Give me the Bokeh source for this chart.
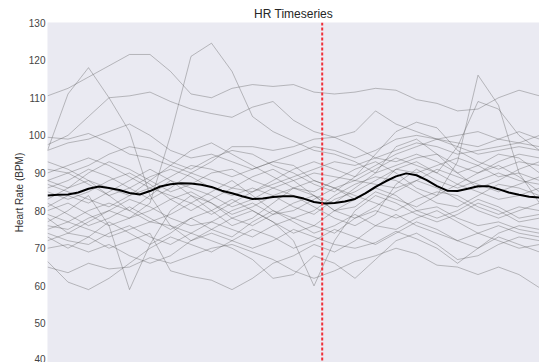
from bokeh.plotting import figure
from bokeh.models import Range1d, Span, FixedTicker
from bokeh.embed import file_html
from bokeh.resources import INLINE

# Sample times (s), one reading every 10 s
time_s = [0, 10, 20, 30, 40, 50, 60, 70, 80, 90, 100, 110, 120,
          130, 140, 150, 160, 170, 180, 190, 200, 210, 220, 230, 240]

# Finer time base (every 5 s) for the group mean
time_mean_s = [0, 5, 10, 15, 20, 25, 30, 35, 40, 45, 50, 55, 60, 65, 70, 75, 80,
               85, 90, 95, 100, 105, 110, 115, 120, 125, 130, 135, 140, 145, 150,
               155, 160, 165, 170, 175, 180, 185, 190, 195, 200, 205, 210, 215,
               220, 225, 230, 235, 240]

# Time of the marked event (s)
event_time = 134

# Per-subject heart rate traces (BPM)
hr_s01 = [110.5, 112.5, 115.5, 118.5, 121.5, 121.5, 117, 111, 110, 112.5, 113.5, 113, 113.5, 111.5, 111, 111.5, 112.5, 112, 109.5, 108.5, 106.5, 107, 110, 112, 110.5]
hr_s02 = [96, 111, 118, 110, 101, 84, 76, 72, 75, 78, 80, 77, 74, 76, 80, 83, 86, 84, 80, 78, 80, 83, 81, 78, 79]
hr_s03 = [78, 74, 77, 80, 78, 82, 100, 121, 124.5, 117, 105, 101, 98.5, 96, 95, 93, 90, 92, 94, 95, 92, 90, 93, 95, 94]
hr_s04 = [97.5, 100, 105, 110, 110.5, 111.5, 109, 107, 105.8, 104.8, 107.5, 109, 104, 101, 99.5, 101, 106.5, 103, 101, 99, 97, 95, 96, 97, 96]
hr_s05 = [80, 82, 79, 76, 78, 80, 83, 85, 82, 79, 81, 84, 86, 85, 88, 91, 93, 90, 86, 84, 93, 116, 108, 90, 82]
hr_s06 = [88, 86, 90, 93, 91, 88, 85, 87, 90, 91, 88, 86, 88, 90, 89, 88, 91, 94, 92, 90, 97, 109, 107, 100, 96]
hr_s07 = [91, 90, 92, 95, 97, 96, 93, 91, 94, 96, 95, 92, 90, 87, 85, 89, 95, 101, 103.5, 102, 96, 93, 91, 93, 92]
hr_s08 = [99.5, 99, 100.5, 98, 95, 94, 92, 90, 88, 86, 85, 87, 89, 91, 93, 92, 94, 96, 98, 97, 95, 96, 97, 98, 97]
hr_s09 = [66.5, 61, 59, 62, 66, 70, 73, 71, 69, 72, 75, 73, 70, 72, 75, 73, 71, 74, 77, 75, 72, 74, 76, 74, 73]
hr_s10 = [65, 63.5, 66, 64.5, 65, 67.5, 66, 68, 70, 71, 69, 67, 64, 62, 64, 66.5, 68, 70, 68.5, 65.5, 65, 63, 65, 63, 59.5]
hr_s11 = [77, 80, 84, 76, 59, 71, 80, 84, 82, 78, 76, 79, 82, 84, 80, 78, 81, 85, 88, 86, 83, 80, 78, 80, 82]
hr_s12 = [72, 74, 73, 70, 72, 74, 64, 62.5, 61.5, 59, 62, 66, 68, 71, 69, 72, 76, 79, 76, 74, 72, 70, 73, 71, 69]
hr_s13 = [75, 77, 75, 73, 75, 77, 76, 74, 72, 70, 67, 62, 63, 68, 66, 62, 67, 72, 74, 71, 67, 68, 71, 73, 72]
hr_s14 = [82, 79, 76, 78, 81, 78, 75, 78, 80, 83, 80, 77, 72, 60, 72, 80, 84, 82, 79, 77, 79, 82, 80, 77, 78]
hr_s15 = [70, 71, 69, 71, 68, 66, 68, 72, 74, 72, 70, 72, 75, 73, 71, 70, 71.5, 74.5, 72.5, 70, 66, 70, 74, 76, 75]
hr_s16 = [86, 88, 91, 89, 86, 83, 86, 90, 93, 97, 97, 96, 97, 99, 99.5, 97, 94, 93, 95, 93, 90, 92, 95, 94, 90]
hr_s17 = [85, 83, 85, 88, 90, 87, 83, 80, 83, 86, 89, 91, 88, 84, 82, 86, 90, 97, 99, 95, 90, 86, 88, 91, 93]
hr_s18 = [83, 86, 88, 84, 80, 77, 79, 82, 85, 88, 84, 80, 78, 80, 84, 87, 89, 88, 85, 82, 81, 84, 87, 86, 84]
hr_s19 = [81, 84, 82, 85, 88, 91, 88, 84, 80, 76, 78, 82, 86, 88, 86, 83, 86, 91, 93, 90, 87, 85, 83, 84, 86]
hr_s20 = [79, 77, 80, 82, 80, 84, 88, 86, 84, 81, 83, 86, 84, 81, 78, 76, 79, 87, 91, 88, 86, 88, 90, 88, 87]
hr_s21 = [76, 75, 78, 80, 83, 81, 78, 76, 77, 80, 82, 79, 80, 83, 86, 84, 82, 80, 83, 85, 84, 81, 79, 81, 80]
hr_s22 = [74, 72, 71, 74, 76, 73, 71, 74, 77, 75, 73, 76, 78, 76, 74, 78, 80, 78, 80, 81, 78, 76, 77, 75, 74]
hr_s23 = [88, 90, 87, 84, 86, 89, 91, 89, 86, 84, 86, 84, 81, 79, 83, 85, 88, 91, 90, 92, 94, 92, 89, 90, 88]
hr_s24 = [90, 92, 94, 92, 89, 86, 84, 82, 79, 82, 85, 88, 91, 93, 91, 89, 92, 95, 97, 99, 98, 97, 99, 101, 99]
hr_s25 = [93, 91, 88, 86, 84, 86, 89, 92, 91, 89, 91, 93, 92, 88, 86, 88, 87, 86, 88, 91, 89, 87, 85, 87, 89]
hr_s26 = [73, 70, 73, 77, 74, 71, 74, 78, 75, 73, 77, 80, 77, 74, 76, 79, 76, 75, 78, 80, 77, 74, 72, 70, 71]
hr_s27 = [96, 98, 99, 101, 103, 100, 96, 94, 95, 93, 91, 93, 95, 97, 96, 94, 96, 99, 100, 99, 100, 101, 99, 98, 100]
hr_s28 = [87, 85, 83, 81, 84, 88, 92, 96, 98, 95, 92, 89, 86, 84, 80, 81, 85, 83, 81, 84, 87, 90, 92, 89, 85]

subjects = [hr_s01, hr_s02, hr_s03, hr_s04, hr_s05, hr_s06, hr_s07, hr_s08,
            hr_s09, hr_s10, hr_s11, hr_s12, hr_s13, hr_s14, hr_s15, hr_s16,
            hr_s17, hr_s18, hr_s19, hr_s20, hr_s21, hr_s22, hr_s23, hr_s24,
            hr_s25, hr_s26, hr_s27, hr_s28]

# Group mean trace (BPM), every 5 s
hr_mean = [84.0, 84.2, 84.3, 84.8, 85.8, 86.4, 86.0, 85.5, 84.7, 84.3, 85.2, 86.4,
           87.0, 87.3, 87.2, 86.9, 86.3, 85.3, 84.6, 83.8, 83.1, 83.2, 83.6, 83.8,
           83.8, 83.2, 82.3, 81.9, 82.0, 82.4, 83.1, 84.6, 86.3, 87.8, 89.1, 89.9,
           89.4, 88.1, 86.5, 85.3, 85.2, 85.8, 86.5, 86.5, 85.7, 84.8, 84.2, 83.7, 83.5]

y_ticks = [40, 50, 60, 70, 80, 90, 100, 110, 120, 130]

FONT = "Liberation Sans"

p = figure(width=539, height=362, output_backend="svg", toolbar_location=None,
           x_axis_location=None,
           x_range=Range1d(0, 240), y_range=Range1d(39.63, 130),
           min_border_left=47, min_border_right=0, min_border_bottom=0, min_border_top=22,
           title="HR Timeseries")

p.background_fill_color = "#EAEAF2"
p.border_fill_color = "white"
p.outline_line_color = None
p.grid.visible = False

p.title.align = "center"
p.title.text_font = FONT
p.title.text_font_size = "12px"
p.title.text_font_style = "normal"
p.title.text_color = "#262626"
p.title.standoff = 4

ax = p.yaxis[0]
ax.ticker = FixedTicker(ticks=y_ticks)
ax.axis_label = "Heart Rate (BPM)"
ax.axis_label_text_font = FONT
ax.axis_label_text_font_size = "10px"
ax.axis_label_text_font_style = "normal"
ax.axis_label_text_color = "#333333"
ax.axis_label_standoff = 1
ax.major_label_text_font = FONT
ax.major_label_text_font_size = "10px"
ax.major_label_text_color = "#444444"
ax.major_label_standoff = 2
ax.major_tick_out = 0
ax.major_tick_in = 0
ax.minor_tick_out = 0
ax.minor_tick_in = 0
ax.axis_line_color = None
ax.major_tick_line_color = None
ax.minor_tick_line_color = None

p.multi_line(xs=[time_s] * len(subjects), ys=subjects,
             line_color="#555555", line_alpha=0.36, line_width=1)

p.line(time_mean_s, hr_mean, line_color="black", line_width=2)

p.add_layout(Span(location=event_time, dimension="height", line_color="#f0303a",
                  line_dash="3 2", line_width=2))

open("out.html", "w").write(file_html(p, INLINE))
